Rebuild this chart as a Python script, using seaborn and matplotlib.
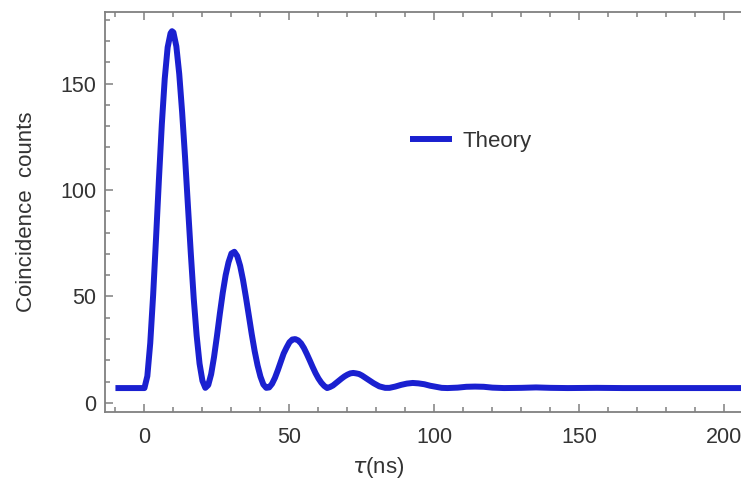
import matplotlib
matplotlib.use("Agg")
import matplotlib.pyplot as plt
import seaborn as sns
import pandas as pd
from matplotlib.ticker import MultipleLocator

# ---- data ----
tau = [-10, 0, 1, 2, 3, 4, 5, 6, 7, 8, 9, 9.5, 10, 11, 12, 13, 14, 15, 16, 17, 18, 19,
       20, 21, 22, 23, 24, 25, 26, 27, 28, 29, 30, 31, 32, 33, 34, 35, 36, 37, 38,
       39, 40, 41, 42, 43, 44, 45, 46, 47, 48, 49, 50, 51, 52, 53, 54, 55, 56, 57,
       58, 59, 60, 61, 62, 63, 64, 65, 66, 67, 68, 69, 70, 71, 72, 73, 74, 75, 77,
       79, 81, 83, 84.5, 86.5, 88.5, 90.5, 92.5, 94.5, 96.5, 98.5, 100.5, 102.5,
       104.5, 108, 111, 114, 117, 120, 124, 130, 135, 140, 146, 156, 165, 180,
       200, 215]
counts = [7.0, 7.0, 12.6, 28.1, 50.7, 77.4, 105.1, 131.0, 152.3, 167.0, 173.6, 174.6,
          174.0, 167.5, 154.5, 136.5, 115.5, 92.5, 70.0, 49.0, 31.7, 18.5, 10.4,
          7.1, 8.4, 13.5, 21.6, 31.4, 41.9, 51.7, 60.0, 66.1, 70.2, 71.0, 69.0,
          64.4, 57.7, 49.6, 41.0, 32.3, 24.4, 17.7, 12.4, 8.7, 7.1, 7.3, 9.0, 11.8,
          15.4, 19.3, 23.2, 26.0, 28.5, 29.8, 30.0, 29.4, 28.0, 25.8, 23.0, 20.0,
          16.9, 14.0, 11.5, 9.5, 8.0, 7.0, 7.5, 8.2, 9.3, 10.4, 11.5, 12.5, 13.3,
          13.9, 14.1, 13.9, 13.6, 12.9, 11.1, 9.3, 7.8, 7.1, 7.1, 7.7, 8.5, 9.1,
          9.4, 9.2, 8.8, 8.1, 7.6, 7.1, 7.0, 7.2, 7.6, 7.7, 7.6, 7.2, 7.0, 7.1,
          7.3, 7.1, 7.0, 7.1, 7.0, 7.0, 7.0, 7.0]
series_label = "Theory"
x_ticks = [0, 50, 100, 150, 200]
y_ticks = [0, 50, 100, 150]

df = pd.DataFrame({"tau": tau, "counts": counts, "series": series_label})

sns.set_style("ticks")
plt.rcParams["font.family"] = ["Liberation Sans", "DejaVu Sans"]

W, H = 741, 494
fig = plt.figure(figsize=(W / 100, H / 100), dpi=100)
left_px, bottom_px, top_px = 105, 411.7, 12
xmin, xmax = -13.6, 210
pxu = 2.9
width_px = (xmax - xmin) * pxu
ax = fig.add_axes([left_px / W, (H - bottom_px) / H, width_px / W,
                   (bottom_px - top_px) / H])

blue = "#1a20d0"
sns.lineplot(data=df, x="tau", y="counts", hue="series", palette=[blue],
             linewidth=4.3, ax=ax, solid_capstyle="butt", solid_joinstyle="round")

ax.set_xlim(xmin, xmax)
ax.set_ylim(-4.1, 183.6)
ax.set_xticks(x_ticks)
ax.set_yticks(y_ticks)
ax.xaxis.set_minor_locator(MultipleLocator(10))
ax.yaxis.set_minor_locator(MultipleLocator(10))

frame = "#808080"
for s in ax.spines.values():
    s.set_color(frame)
    s.set_linewidth(1.3)
ax.tick_params(which="both", direction="in", top=True, right=True, color=frame,
               width=1.1, labelcolor="#333333", labelsize=15.5)
ax.tick_params(which="major", length=6)
ax.tick_params(which="minor", length=3.5)
ax.tick_params(axis="x", pad=11)
ax.tick_params(axis="y", pad=6)

ax.set_xlabel(r"$\tau$(ns)", fontsize=16, color="#333333")
ax.set_ylabel("Coincidence  counts", fontsize=16, color="#333333")
ax.xaxis.set_label_coords((378 - left_px) / width_px,
                          (bottom_px - 467) / (bottom_px - top_px))
ax.xaxis.label.set_va("center")
ax.yaxis.set_label_coords((27 - left_px) / width_px, 0.5)
ax.yaxis.label.set_va("center")

leg = ax.legend(loc="center left", bbox_to_anchor=(410 / W, 1 - 141 / H),
                bbox_transform=fig.transFigure, frameon=False, fontsize=16,
                handlelength=1.9, handletextpad=0.45, borderpad=0,
                borderaxespad=0)
for t in leg.get_texts():
    t.set_color("#333333")

fig.savefig("out.png", dpi=100)
